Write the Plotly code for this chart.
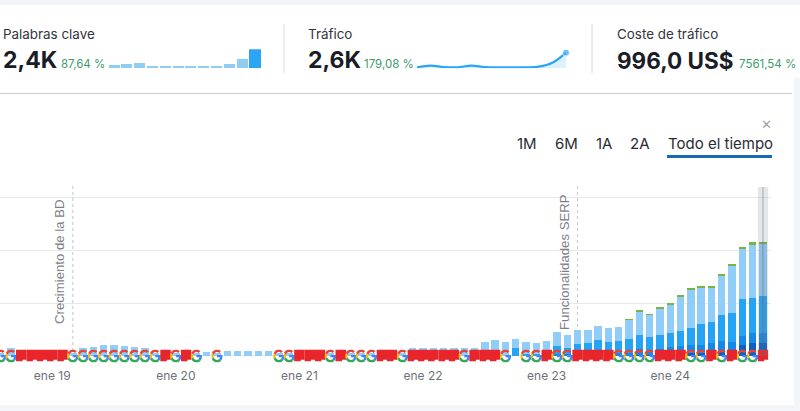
"""Panel de dominio: tarjetas de resumen y grafico de palabras clave por mes."""
import base64

import plotly.graph_objects as go

W, H = 800, 411

# ---- datos ----
MESES = [f"{a}-{m:02d}" for a in range(2018, 2025) for m in range(1, 13)][7:82]

OSCURO2 = [0] * 62 + [10, 10, 15, 40, 50, 50, 60, 80, 100, 100, 209, 253, 240]
OSCURO1 = [0] * 53 + [20, 30, 30, 40, 40, 50, 50, 50, 60, 120, 90, 120, 137,
                      146, 150, 155, 160, 178, 172, 171, 184, 190]
MEDIO = [0] * 50 + [152, 40, 30, 100, 166, 128, 194, 207, 260, 222, 228, 256,
                    269, 254, 264, 260, 285, 338, 386, 406, 507, 551, 702, 671, 709]
CLARO = [60, 150, 50, 50, 50, 50, 50, 60, 152, 165, 209, 203, 190, 171, 157, 60,
         60, 60, 60, 60, 80, 60, 100, 100, 100, 100, 100, 60, 60, 60, 60, 60,
         60, 60, 60, 60, 60, 60, 60, 60, 152, 150, 150, 150, 150, 150, 157, 266,
         304, 272, 164, 232, 222, 165, 254, 234, 266, 247, 266, 260, 272, 368,
         443, 424, 500, 531, 639, 721, 696, 658, 740, 886, 962, 1006, 981]
VERDE = [0] * 61 + [8, 15, 12, 15, 20, 20, 20, 20, 20, 25, 25, 30, 40, 40]

# G = Google, F = bandera, "" = sin icono
ICONOS = (["G", "G"] + ["F"] * 5 + ["G"] * 9 + ["F", "G", "F", "G", "", "G"]
          + [""] * 5 + ["G", "G", "F", "F", "F", "G", "F", "G", "G", "G", "F", "F", "G"]
          + ["F"] * 5 + ["G", "F", "F", "F", "G", "", "G", "G", "F", "G", "G"]
          + ["F"] * 4 + ["G"] * 4 + ["F"] * 3 + ["G", "G", "F", "G", "F", "G", "G", "F"])

TICKS_MES = ["2019-01", "2020-01", "2021-01", "2022-01", "2023-01", "2024-01"]
TICKS_TXT = ["ene 19", "ene 20", "ene 21", "ene 22", "ene 23", "ene 24"]
TICKS_Y = [0, 1000, 2000, 3000]

NOTAS = [("2019-03", "Crecimiento de la BD", 59), ("2023-04", "Funcionalidades SERP", 564)]

SPARK_KW = [420, 500, 630, 250, 170, 170, 210, 210, 250, 500, 1220, 2400]
SPARK_TR = [165, 440, 220, 165, 440, 220, 165, 165, 165, 275, 940, 2600]

TARJETAS = [
    (3, "Palabras clave", "2,4K", 23, 61, "87,64 %"),
    (308, "Tráfico", "2,6K", 23, 364, "179,08 %"),
    (617, "Coste de tráfico", "996,0 US$", 22.5, 739, "7561,54 %"),
]
BOTONES = [("1M", 527), ("6M", 566), ("1A", 604), ("2A", 640), ("Todo el tiempo", 720)]

# ---- colores ----
C_TEXTO = "#1b1d26"
C_GRIS = "#6f7179"
C_VERDE = "#3f9a70"
C_FONDO = "#f4f5f8"
C_GRID = "#e8e9ed"
FUENTE = "Inter"

G_SVG = (
    '<svg xmlns="http://www.w3.org/2000/svg" viewBox="0 0 48 48">'
    '<path fill="#EA4335" d="M24 9.5c3.54 0 6.71 1.22 9.21 3.6l6.85-6.85C35.9 2.38 30.47 0 24 0 14.62 0 6.51 5.38 2.56 13.22l7.98 6.19C12.43 13.72 17.74 9.5 24 9.5z"/>'
    '<path fill="#4285F4" d="M46.98 24.55c0-1.57-.15-3.09-.38-4.55H24v9.02h12.94c-.58 2.96-2.26 5.48-4.78 7.18l7.73 6c4.51-4.18 7.09-10.36 7.09-17.65z"/>'
    '<path fill="#FBBC05" d="M10.53 28.59c-.48-1.45-.76-2.99-.76-4.59s.27-3.14.76-4.59l-7.98-6.19C.92 16.46 0 20.12 0 24c0 3.88.92 7.54 2.56 10.78l7.97-6.19z"/>'
    '<path fill="#34A853" d="M24 48c6.48 0 11.93-2.13 15.89-5.81l-7.73-6c-2.15 1.45-4.92 2.3-8.16 2.3-6.26 0-11.57-4.22-13.47-9.91l-7.98 6.19C6.51 42.62 14.62 48 24 48z"/>'
    "</svg>"
)
F_SVG = (
    '<svg xmlns="http://www.w3.org/2000/svg" viewBox="0 0 48 48">'
    '<path fill="#E8252B" d="M0 0H48V38H30V44H0Z"/></svg>'
)


def uri(svg):
    return "data:image/svg+xml;base64," + base64.b64encode(svg.encode()).decode()


def px(x):
    return x / W


def py(y):
    return 1 - y / H


def texto(fig, x, y, txt, size, color, anchor="left", bold=False, family=FUENTE, angle=0):
    fig.add_annotation(
        xref="paper", yref="paper", x=px(x), y=py(y), text=f"<b>{txt}</b>" if bold else txt,
        showarrow=False, xanchor=anchor, yanchor="middle", textangle=angle,
        font=dict(size=size, color=color, family=family), borderpad=0, borderwidth=0,
    )


fig = go.Figure()

# ---- grafico principal ----
for nombre, serie, color in [
    ("Top 3", OSCURO2, "#1060c0"),
    ("4-10", OSCURO1, "#1787e8"),
    ("11-20", MEDIO, "#25a3f5"),
    ("21-100", CLARO, "#90cdf8"),
    ("SERP", VERDE, "#74b63f"),
]:
    fig.add_trace(go.Bar(x=MESES, y=serie, name=nombre, marker=dict(color=color, line_width=0),
                         width=0.72, showlegend=False))

for mes, icono in zip(MESES, ICONOS):
    if not icono:
        continue
    fig.add_layout_image(
        source=uri(G_SVG if icono == "G" else F_SVG), xref="x", yref="y",
        x=MESES.index(mes), y=0, sizex=1.12 if icono == "G" else 1.04, sizey=245,
        xanchor="center", yanchor="middle", sizing="stretch", layer="above",
    )

# lineas de notas y banda del cursor
for mes, nota, xt in NOTAS:
    fig.add_shape(type="line", xref="x", yref="paper", x0=MESES.index(mes), x1=MESES.index(mes),
                  y0=py(357), y1=py(186), layer="below",
                  line=dict(color="#c4c5cb", width=1, dash="3px,3px"))
    texto(fig, xt, 262, nota, 13.2, "#7d7f87", anchor="center", family="Liberation Sans", angle=-90)

ult = len(MESES) - 1
fig.add_shape(type="rect", xref="x", yref="paper", x0=ult - 0.5, x1=ult + 0.5,
              y0=py(356), y1=py(187), fillcolor="rgba(120,130,140,0.2)", line_width=0, layer="above")
fig.add_shape(type="line", xref="x", yref="paper", x0=ult, x1=ult, y0=py(356), y1=py(187),
              line=dict(color="rgba(90,100,110,0.45)", width=1), layer="above")

# ---- minigraficos ----
fig.add_trace(go.Bar(
    x=list(range(len(SPARK_KW))), y=SPARK_KW, xaxis="x2", yaxis="y2", width=0.86, showlegend=False,
    marker=dict(color=["#90cdf5"] * (len(SPARK_KW) - 1) + ["#2ba6f5"], line_width=0),
))
fig.add_trace(go.Scatter(
    x=list(range(len(SPARK_TR))), y=SPARK_TR, xaxis="x3", yaxis="y3", mode="lines+markers",
    showlegend=False, cliponaxis=False, fill="tozeroy", fillcolor="rgba(43,166,245,0.16)",
    line=dict(color="#2ba6f5", width=2.2, shape="spline"),
    marker=dict(color="#2ba6f5", size=[0] * (len(SPARK_TR) - 1) + [7]),
))

# ---- tarjetas ----
for x, etiqueta, valor, tam, xp, pct in TARJETAS:
    texto(fig, x, 34, etiqueta, 13.4, "#33353f")
    texto(fig, x, 60, valor, tam, C_TEXTO, bold=True)
    texto(fig, xp, 64.5, pct, 11.5, C_VERDE)
for xb in (284, 592):
    fig.add_shape(type="line", xref="paper", yref="paper", x0=px(xb), x1=px(xb), y0=py(24), y1=py(73),
                  line=dict(color="#d9dade", width=1))

for etiqueta, x in BOTONES:
    texto(fig, x, 143, etiqueta, 15, "#2a2c36", anchor="center")
fig.add_shape(type="line", xref="paper", yref="paper", x0=px(667), x1=px(772), y0=py(156.5), y1=py(156.5),
              line=dict(color="#1b69b3", width=3))
texto(fig, 766, 124, "✕", 13, "#a3a5ab", anchor="center", family="DejaVu Sans", bold=True)

# ---- fondo de la pagina ----
for x0, y0, x1, y1 in [(0, 0, 800, 5), (794, 78, 800, 411), (0, 405, 800, 411)]:
    fig.add_shape(type="rect", xref="paper", yref="paper", x0=px(x0), x1=px(x1), y0=py(y1), y1=py(y0),
                  fillcolor=C_FONDO, line_width=0, layer="below")
fig.add_shape(type="line", xref="paper", yref="paper", x0=0, x1=px(792), y0=py(93.5), y1=py(93.5),
              line=dict(color="#cdced3", width=1))

eje_oculto = dict(visible=False, fixedrange=True)
fig.update_layout(
    width=W, height=H, autosize=False, margin=dict(l=0, r=0, t=0, b=0),
    paper_bgcolor="white", plot_bgcolor="rgba(0,0,0,0)", barmode="stack", bargap=0.28,
    font=dict(family=FUENTE), hovermode=False,
    xaxis=dict(
        domain=[0, px(771)], type="category", range=[-0.07, 74.78], categoryorder="array",
        categoryarray=MESES, tickvals=TICKS_MES, ticktext=TICKS_TXT, showgrid=False, showline=False,
        ticks="", zeroline=False, tickfont=dict(size=12, color=C_GRIS, family=FUENTE),
        tickangle=0, ticklabelstandoff=2,
    ),
    yaxis=dict(
        domain=[py(365), py(186)], range=[-171, 3226], tickvals=TICKS_Y, showticklabels=False,
        showgrid=True, gridcolor=C_GRID, gridwidth=1, zeroline=False, showline=False, ticks="",
    ),
    xaxis2=dict(domain=[px(107.6), px(261.4)], range=[-0.5, 11.5], anchor="y2", **eje_oculto),
    yaxis2=dict(domain=[py(68.3), py(49.3)], range=[0, 2400], anchor="x2", **eje_oculto),
    xaxis3=dict(domain=[px(417), px(566)], range=[0, 11], anchor="y3", **eje_oculto),
    yaxis3=dict(domain=[py(68.3), py(52.7)], range=[0, 2600], anchor="x3", **eje_oculto),
)

# sin margen del body para que la figura ocupe toda la ventana
fig.write_html("out.html", config=dict(displayModeBar=False),
               post_script="document.body.style.margin='0';document.body.style.overflow='hidden';")
